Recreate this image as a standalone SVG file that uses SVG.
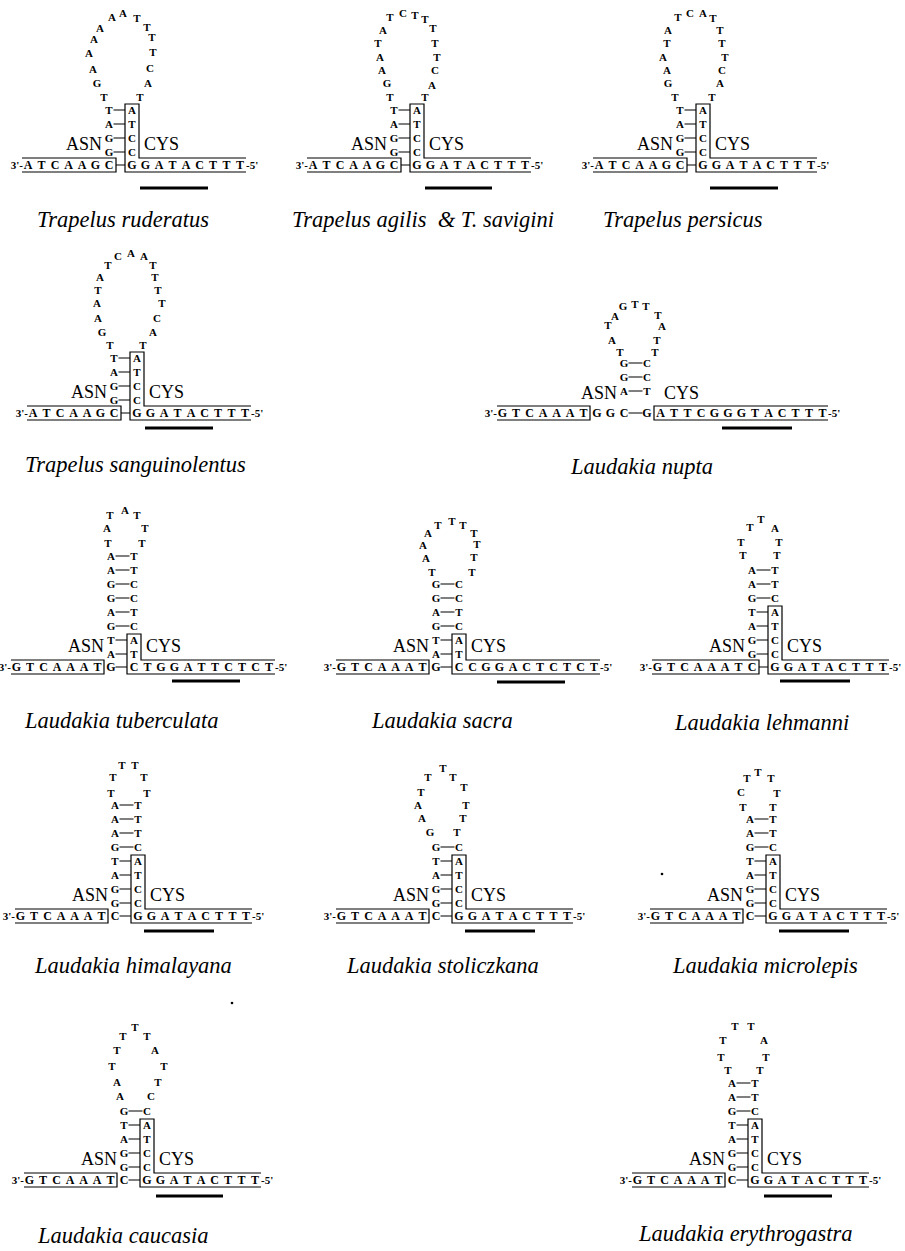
<svg xmlns="http://www.w3.org/2000/svg" width="905" height="1251" viewBox="0 0 905 1251">
<style>
.l{font:bold 11px "Liberation Serif",serif;text-anchor:middle}
.s{font:bold 12px "Liberation Serif",serif;text-anchor:middle}
.e{font:bold 11px "Liberation Serif",serif}
.lab{font:18px "Liberation Serif",serif}
.t{font:italic 22.5px "Liberation Serif",serif}
.ln{fill:none;stroke:#000;stroke-width:1.2}
.bar{stroke:#000;stroke-width:3.2}
</style>
<rect width="905" height="1251" fill="#fff"/>

<g id="trapelus-ruderatus" transform="translate(125,169)">
<text class="l" x="-21 -28 -32 -36 -31 -25 -13 -2 12 22 27 28 25 23 15" y="-68 -82 -96 -112 -126 -137 -148 -152 -147 -138 -128 -113 -97 -82 -68">TGAAAAAATTTTCAT</text>
<text class="l" x="-16 7" y="-55">TA</text><text class="l" x="-16 7" y="-41">AT</text><text class="l" x="-16 7" y="-27">GC</text><text class="l" x="-16 7" y="-13">GC</text>
<text class="s" x="-97 -83.5 -70 -56.5 -43 -29.5 -16 7 20.5 34 47.5 61 74.5 88 101.5 115" y="0">ATCAAGCGGATACTTT</text>
<text class="e" x="-102" y="0" text-anchor="end">3'-</text><text class="e" x="121" y="0">-5'</text>
<text class="lab" x="-23" y="-19" text-anchor="end">ASN</text><text class="lab" x="19" y="-19">CYS</text>
<path class="ln" d="M-103,-11H-9V3H-103M121,-11H14V-65H0V3H121M-9,-4H0M-11.5,-17H0M-11.5,-31H0M-11.5,-45H0M-11.5,-59H0"/>
<path class="bar" d="M15,19H83"/>
<text class="t" x="-88" y="58">Trapelus ruderatus</text>
</g>

<g id="trapelus-agilis" transform="translate(410,169)">
<text class="l" x="-20 -23 -28 -30 -32 -27 -20 -7 5 15 23 25 27 25 22 15" y="-68 -82 -95 -108 -122 -135 -148 -152 -150 -146 -137 -122 -108 -95 -80 -68">TGAATATCTTTTTCAT</text>
<text class="l" x="-16 7" y="-55">TA</text><text class="l" x="-16 7" y="-41">AT</text><text class="l" x="-16 7" y="-27">GC</text><text class="l" x="-16 7" y="-13">GC</text>
<text class="s" x="-97 -83.5 -70 -56.5 -43 -29.5 -16 7 20.5 34 47.5 61 74.5 88 101.5 115" y="0">ATCAAGCGGATACTTT</text>
<text class="e" x="-102" y="0" text-anchor="end">3'-</text><text class="e" x="121" y="0">-5'</text>
<text class="lab" x="-23" y="-19" text-anchor="end">ASN</text><text class="lab" x="19" y="-19">CYS</text>
<path class="ln" d="M-103,-11H-9V3H-103M121,-11H14V-65H0V3H121M-9,-4H0M-11.5,-17H0M-11.5,-31H0M-11.5,-45H0M-11.5,-59H0"/>
<path class="bar" d="M15,19H82"/>
<text class="t" x="-118" y="58" style="white-space:pre">Trapelus agilis  &amp; T. savigini</text>
</g>

<g id="trapelus-persicus" transform="translate(696,169)">
<text class="l" x="-21 -28 -29 -33 -29 -28 -18 -6 7 17 24 26 29 26 24 16" y="-68 -82 -95 -108 -122 -135 -148 -152 -152 -147 -135 -122 -108 -95 -82 -68">TGAATATCATTTTCAT</text>
<text class="l" x="-16 7" y="-55">TA</text><text class="l" x="-16 7" y="-41">AT</text><text class="l" x="-16 7" y="-27">GC</text><text class="l" x="-16 7" y="-13">GC</text>
<text class="s" x="-97 -83.5 -70 -56.5 -43 -29.5 -16 7 20.5 34 47.5 61 74.5 88 101.5 115" y="0">ATCAAGCGGATACTTT</text>
<text class="e" x="-102" y="0" text-anchor="end">3'-</text><text class="e" x="121" y="0">-5'</text>
<text class="lab" x="-23" y="-19" text-anchor="end">ASN</text><text class="lab" x="19" y="-19">CYS</text>
<path class="ln" d="M-103,-11H-9V3H-103M121,-11H14V-65H0V3H121M-9,-4H0M-11.5,-17H0M-11.5,-31H0M-11.5,-45H0M-11.5,-59H0"/>
<path class="bar" d="M14,19H82"/>
<text class="t" x="-93" y="58">Trapelus persicus</text>
</g>

<g id="trapelus-sanguinolentus" transform="translate(130,417)">
<text class="l" x="-20 -28 -32 -33 -32 -30 -22 -12 1 14 23 25 28 32 27 23 13" y="-68 -81 -95 -110 -123 -136 -148 -157 -160 -157 -148 -136 -123 -110 -95 -81 -68">TGAATATCAATTTTCAT</text>
<text class="l" x="-16 7" y="-55">TA</text><text class="l" x="-16 7" y="-41">AT</text><text class="l" x="-16 7" y="-27">GC</text><text class="l" x="-16 7" y="-13">GC</text>
<text class="s" x="-97 -83.5 -70 -56.5 -43 -29.5 -16 7 20.5 34 47.5 61 74.5 88 101.5 115" y="0">ATCAAGCGGATACTTT</text>
<text class="e" x="-102" y="0" text-anchor="end">3'-</text><text class="e" x="121" y="0">-5'</text>
<text class="lab" x="-23" y="-19" text-anchor="end">ASN</text><text class="lab" x="19" y="-19">CYS</text>
<path class="ln" d="M-103,-11H-9V3H-103M121,-11H14V-65H0V3H121M-9,-4H0M-11.5,-17H0M-11.5,-31H0M-11.5,-45H0M-11.5,-59H0"/>
<path class="bar" d="M15,11H83"/>
<text class="t" x="-105" y="55">Trapelus sanguinolentus</text>
</g>

<g id="laudakia-nupta" transform="translate(640,417)">
<text class="l" x="-20 -28 -32 -25 -17 -5 6 18 22 17 15" y="-61 -73 -88 -97 -107 -109 -107 -98 -87 -73 -61">TATAGTTTATT</text>
<text class="l" x="-16 7" y="-50">GC</text><text class="l" x="-16 7" y="-36">GC</text><text class="l" x="-16 7" y="-22">AT</text>
<text class="s" x="-137.5 -124 -110.5 -97 -83.5 -70 -56.5 -43 -29.5 -16 7 20.5 34 47.5 61 74.5 88 101.5 115 128.5 142 155.5 169 182.5" y="0">GTCAAATGGCGATTCGGGTACTTT</text>
<text class="e" x="-143" y="0" text-anchor="end">3'-</text><text class="e" x="188" y="0">-5'</text>
<text class="lab" x="-23" y="-18" text-anchor="end">ASN</text><text class="lab" x="24" y="-18">CYS</text>
<path class="ln" d="M-143,-11H-50V3H-143M188,-11H14V3H188M-11.5,-4H2.5M-11.5,-26H2.5M-11.5,-40H2.5M-11.5,-54H2.5"/>
<path class="bar" d="M82,11H152"/>
<text class="t" x="-69" y="57">Laudakia nupta</text>
</g>

<g id="laudakia-tuberculata" transform="translate(127,671)">
<text class="l" x="-19 -20 -17 -2 10 18 15" y="-124 -139 -152 -157 -152 -139 -124">TATATTT</text>
<text class="l" x="-16 7" y="-111">AT</text><text class="l" x="-16 7" y="-97">AT</text><text class="l" x="-16 7" y="-83">GC</text><text class="l" x="-16 7" y="-69">GC</text><text class="l" x="-16 7" y="-55">AT</text><text class="l" x="-16 7" y="-41">GC</text><text class="l" x="-16 7" y="-27">TA</text><text class="l" x="-16 7" y="-13">AT</text>
<text class="s" x="-110.5 -97 -83.5 -70 -56.5 -43 -29.5 -16 7 20.5 34 47.5 61 74.5 88 101.5 115 128.5 142" y="0">GTCAAATGCTGGATTCTCT</text>
<text class="e" x="-116" y="0" text-anchor="end">3'-</text><text class="e" x="148" y="0">-5'</text>
<text class="lab" x="-23" y="-19" text-anchor="end">ASN</text><text class="lab" x="19" y="-19">CYS</text>
<path class="ln" d="M-116,-11H-23V3H-116M148,-11H14V-37H0V3H148M-11.5,-4H0M-11.5,-17H0M-11.5,-31H0M-11.5,-45H2.5M-11.5,-59H2.5M-11.5,-73H2.5M-11.5,-87H2.5M-11.5,-101H2.5M-11.5,-115H2.5"/>
<path class="bar" d="M45,10H113"/>
<text class="t" x="-102" y="57">Laudakia tuberculata</text>
</g>

<g id="laudakia-sacra" transform="translate(452,671)">
<text class="l" x="-20 -26 -29 -24 -14 0 11 22 25 22 20" y="-95 -109 -122 -134 -142 -146 -142 -134 -123 -110 -95">TAAATTTTTTT</text>
<text class="l" x="-16 7" y="-83">GC</text><text class="l" x="-16 7" y="-69">GC</text><text class="l" x="-16 7" y="-55">AT</text><text class="l" x="-16 7" y="-41">GC</text><text class="l" x="-16 7" y="-27">TA</text><text class="l" x="-16 7" y="-13">AT</text>
<text class="s" x="-110.5 -97 -83.5 -70 -56.5 -43 -29.5 -16 7 20.5 34 47.5 61 74.5 88 101.5 115 128.5 142" y="0">GTCAAATGCCGGACTCTCT</text>
<text class="e" x="-116" y="0" text-anchor="end">3'-</text><text class="e" x="148" y="0">-5'</text>
<text class="lab" x="-23" y="-19" text-anchor="end">ASN</text><text class="lab" x="19" y="-19">CYS</text>
<path class="ln" d="M-116,-11H-23V3H-116M148,-11H14V-37H0V3H148M-11.5,-4H0M-11.5,-17H0M-11.5,-31H0M-11.5,-45H2.5M-11.5,-59H2.5M-11.5,-73H2.5M-11.5,-87H2.5"/>
<path class="bar" d="M45,11H113"/>
<text class="t" x="-80" y="57">Laudakia sacra</text>
</g>

<g id="laudakia-lehmanni" transform="translate(768,671)">
<text class="l" x="-25 -27 -18 -7 7 11 9" y="-112 -125 -140 -148 -139 -125 -112">TTTTATT</text>
<text class="l" x="-16 7" y="-97">AT</text><text class="l" x="-16 7" y="-83">AT</text><text class="l" x="-16 7" y="-69">GC</text><text class="l" x="-16 7" y="-55">TA</text><text class="l" x="-16 7" y="-41">AT</text><text class="l" x="-16 7" y="-27">GC</text><text class="l" x="-16 7" y="-13">GC</text>
<text class="s" x="-110.5 -97 -83.5 -70 -56.5 -43 -29.5 -16 7 20.5 34 47.5 61 74.5 88 101.5 115" y="0">GTCAAATCGGATACTTT</text>
<text class="e" x="-116" y="0" text-anchor="end">3'-</text><text class="e" x="121" y="0">-5'</text>
<text class="lab" x="-23" y="-19" text-anchor="end">ASN</text><text class="lab" x="19" y="-19">CYS</text>
<path class="ln" d="M-116,-11H-9V3H-116M121,-11H14V-65H0V3H121M-9,-4H0M-11.5,-17H0M-11.5,-31H0M-11.5,-45H0M-11.5,-59H0M-11.5,-73H2.5M-11.5,-87H2.5M-11.5,-101H2.5"/>
<path class="bar" d="M12,10H82"/>
<text class="t" x="-93" y="59">Laudakia lehmanni</text>
</g>

<g id="laudakia-himalayana" transform="translate(131,920)">
<text class="l" x="-20 -18 -9 4 13 16" y="-123 -139 -151 -151 -139 -123">TTTTTT</text>
<text class="l" x="-16 7" y="-111">AT</text><text class="l" x="-16 7" y="-97">AT</text><text class="l" x="-16 7" y="-83">AT</text><text class="l" x="-16 7" y="-69">GC</text><text class="l" x="-16 7" y="-55">TA</text><text class="l" x="-16 7" y="-41">AT</text><text class="l" x="-16 7" y="-27">GC</text><text class="l" x="-16 7" y="-13">GC</text>
<text class="s" x="-110.5 -97 -83.5 -70 -56.5 -43 -29.5 -16 7 20.5 34 47.5 61 74.5 88 101.5 115" y="0">GTCAAATCGGATACTTT</text>
<text class="e" x="-116" y="0" text-anchor="end">3'-</text><text class="e" x="121" y="0">-5'</text>
<text class="lab" x="-23" y="-19" text-anchor="end">ASN</text><text class="lab" x="19" y="-19">CYS</text>
<path class="ln" d="M-116,-11H-23V3H-116M121,-11H14V-65H0V3H121M-11.5,-4H0M-11.5,-17H0M-11.5,-31H0M-11.5,-45H0M-11.5,-59H0M-11.5,-73H2.5M-11.5,-87H2.5M-11.5,-101H2.5M-11.5,-115H2.5"/>
<path class="bar" d="M13,11H83"/>
<text class="t" x="-96" y="53">Laudakia himalayana</text>
</g>

<g id="laudakia-stoliczkana" transform="translate(452,920)">
<text class="l" x="-22 -30 -34 -31 -24 -9 1 12 14 11 5" y="-84 -98 -111 -124 -139 -148 -139 -129 -111 -98 -84">GAATTTTTTTT</text>
<text class="l" x="-16 7" y="-69">GC</text><text class="l" x="-16 7" y="-55">TA</text><text class="l" x="-16 7" y="-41">AT</text><text class="l" x="-16 7" y="-27">GC</text><text class="l" x="-16 7" y="-13">GC</text>
<text class="s" x="-110.5 -97 -83.5 -70 -56.5 -43 -29.5 -16 7 20.5 34 47.5 61 74.5 88 101.5 115" y="0">GTCAAATCGGATACTTT</text>
<text class="e" x="-116" y="0" text-anchor="end">3'-</text><text class="e" x="121" y="0">-5'</text>
<text class="lab" x="-23" y="-19" text-anchor="end">ASN</text><text class="lab" x="19" y="-19">CYS</text>
<path class="ln" d="M-116,-11H-23V3H-116M121,-11H14V-65H0V3H121M-11.5,-4H0M-11.5,-17H0M-11.5,-31H0M-11.5,-45H0M-11.5,-59H0M-11.5,-73H2.5"/>
<path class="bar" d="M13,11H83"/>
<text class="t" x="-105" y="53">Laudakia stoliczkana</text>
</g>

<g id="laudakia-microlepis" transform="translate(766,920)">
<text class="l" x="-23 -25 -19 -8 5 11 7" y="-109 -124 -138 -144 -138 -123 -109">TCTTTTT</text>
<text class="l" x="-16 7" y="-97">AT</text><text class="l" x="-16 7" y="-83">AT</text><text class="l" x="-16 7" y="-69">GC</text><text class="l" x="-16 7" y="-55">TA</text><text class="l" x="-16 7" y="-41">AT</text><text class="l" x="-16 7" y="-27">GC</text><text class="l" x="-16 7" y="-13">GC</text>
<text class="s" x="-110.5 -97 -83.5 -70 -56.5 -43 -29.5 -16 7 20.5 34 47.5 61 74.5 88 101.5 115" y="0">GTCAAATCGGATACTTT</text>
<text class="e" x="-116" y="0" text-anchor="end">3'-</text><text class="e" x="121" y="0">-5'</text>
<text class="lab" x="-23" y="-19" text-anchor="end">ASN</text><text class="lab" x="19" y="-19">CYS</text>
<path class="ln" d="M-116,-11H-23V3H-116M121,-11H14V-65H0V3H121M-11.5,-4H0M-11.5,-17H0M-11.5,-31H0M-11.5,-45H0M-11.5,-59H0M-11.5,-73H2.5M-11.5,-87H2.5M-11.5,-101H2.5"/>
<path class="bar" d="M13,11H83"/>
<text class="t" x="-93" y="53">Laudakia microlepis</text>
</g>

<g id="laudakia-caucasia" transform="translate(140,1184)">
<text class="l" x="-20 -23 -28 -23 -17 -5 7 15 24 18 11" y="-84 -98 -114 -130 -144 -153 -144 -130 -114 -98 -84">AATTTTTATTC</text>
<text class="l" x="-16 7" y="-69">GC</text><text class="l" x="-16 7" y="-55">TA</text><text class="l" x="-16 7" y="-41">AT</text><text class="l" x="-16 7" y="-27">GC</text><text class="l" x="-16 7" y="-13">GC</text>
<text class="s" x="-110.5 -97 -83.5 -70 -56.5 -43 -29.5 -16 7 20.5 34 47.5 61 74.5 88 101.5 115" y="0">GTCAAATCGGATACTTT</text>
<text class="e" x="-116" y="0" text-anchor="end">3'-</text><text class="e" x="121" y="0">-5'</text>
<text class="lab" x="-23" y="-19" text-anchor="end">ASN</text><text class="lab" x="19" y="-19">CYS</text>
<path class="ln" d="M-116,-11H-23V3H-116M121,-11H14V-65H0V3H121M-11.5,-4H0M-11.5,-17H0M-11.5,-31H0M-11.5,-45H0M-11.5,-59H0M-11.5,-73H2.5"/>
<path class="bar" d="M16,12H83"/>
<text class="t" x="-102" y="59">Laudakia caucasia</text>
</g>

<g id="laudakia-erythrogastra" transform="translate(748,1184)">
<text class="l" x="-20 -27 -25 -13 3 16 18 12" y="-110 -123 -140 -154 -154 -140 -123 -110">TTTTTATT</text>
<text class="l" x="-16 7" y="-97">AT</text><text class="l" x="-16 7" y="-83">AT</text><text class="l" x="-16 7" y="-69">GC</text><text class="l" x="-16 7" y="-55">TA</text><text class="l" x="-16 7" y="-41">AT</text><text class="l" x="-16 7" y="-27">GC</text><text class="l" x="-16 7" y="-13">GC</text>
<text class="s" x="-110.5 -97 -83.5 -70 -56.5 -43 -29.5 -16 7 20.5 34 47.5 61 74.5 88 101.5 115" y="0">GTCAAATCGGATACTTT</text>
<text class="e" x="-116" y="0" text-anchor="end">3'-</text><text class="e" x="121" y="0">-5'</text>
<text class="lab" x="-23" y="-19" text-anchor="end">ASN</text><text class="lab" x="19" y="-19">CYS</text>
<path class="ln" d="M-116,-11H-23V3H-116M121,-11H14V-65H0V3H121M-11.5,-4H0M-11.5,-17H0M-11.5,-31H0M-11.5,-45H0M-11.5,-59H0M-11.5,-73H2.5M-11.5,-87H2.5M-11.5,-101H2.5"/>
<path class="bar" d="M16,12H84"/>
<text class="t" x="-109" y="57">Laudakia erythrogastra</text>
</g>

<circle cx="232" cy="1003" r="1.3" fill="#000"/>
<circle cx="662" cy="874" r="1.3" fill="#000"/>
</svg>
